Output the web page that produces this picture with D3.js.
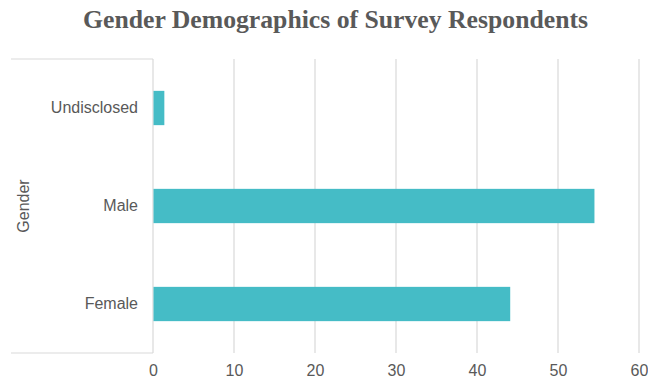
<!DOCTYPE html>
<html>
<head>
<meta charset="utf-8">
<script src="https://cdn.jsdelivr.net/npm/d3@7"></script>
<style>
  html, body { margin: 0; padding: 0; background: #ffffff; }
  svg { display: block; }
</style>
</head>
<body>
<svg id="chart" width="648" height="381"></svg>
<script>
// Survey respondents by gender
const categories = ["Undisclosed", "Male", "Female"];
const values = [1.4, 54.5, 44.1];
const xTicks = [0, 10, 20, 30, 40, 50, 60];

const svg = d3.select("#chart");
const plotLeft = 153, plotRight = 639, plotTop = 59, plotBottom = 353;
const labelFont = "'Liberation Sans', Arial, sans-serif";
const textColor = "#595959";
const lineColor = "#d9d9d9";

const x = d3.scaleLinear().domain([0, 60]).range([plotLeft, plotRight]);
const y = d3.scaleBand().domain(categories).range([plotTop, plotBottom]).paddingInner(0.65).paddingOuter(0.325);

// Title
svg.append("text")
  .attr("x", 335.5).attr("y", 28)
  .attr("text-anchor", "middle")
  .attr("font-family", "'Liberation Serif', 'Times New Roman', serif")
  .attr("font-weight", "bold")
  .attr("font-size", 25)
  .attr("textLength", 505)
  .attr("lengthAdjust", "spacingAndGlyphs")
  .attr("fill", textColor)
  .text("Gender Demographics of Survey Respondents");

// Vertical gridlines
svg.append("g")
  .selectAll("line")
  .data(xTicks.filter(d => d > 0))
  .join("line")
  .attr("x1", d => x(d)).attr("x2", d => x(d))
  .attr("y1", plotTop).attr("y2", plotBottom)
  .attr("stroke", lineColor).attr("stroke-width", 1.2);

// Category frame lines on the left
svg.append("line")
  .attr("x1", 11).attr("x2", plotLeft).attr("y1", plotTop).attr("y2", plotTop)
  .attr("stroke", lineColor).attr("stroke-width", 1.2);
svg.append("line")
  .attr("x1", 11).attr("x2", plotLeft).attr("y1", plotBottom).attr("y2", plotBottom)
  .attr("stroke", lineColor).attr("stroke-width", 1.2);
svg.append("line")
  .attr("x1", plotLeft).attr("x2", plotLeft).attr("y1", plotTop).attr("y2", plotBottom)
  .attr("stroke", lineColor).attr("stroke-width", 1.2);

// Bars
svg.append("g")
  .selectAll("rect")
  .data(categories.map((c, i) => ({ c, v: values[i] })))
  .join("rect")
  .attr("x", x(0) + 0.5)
  .attr("y", d => y(d.c))
  .attr("width", d => x(d.v) - x(0) - 0.5)
  .attr("height", y.bandwidth())
  .attr("fill", "#45bcc6");

// Category labels
const yAxis = d3.axisLeft(y).tickSize(0).tickPadding(15);
const gy = svg.append("g").attr("transform", `translate(${plotLeft},0)`).call(yAxis);
gy.select(".domain").remove();
gy.selectAll("text")
  .attr("font-family", labelFont)
  .attr("font-size", 16)
  .attr("fill", textColor);

// Value axis labels
const xAxis = d3.axisBottom(x).tickValues(xTicks).tickSize(0).tickPadding(12);
const gx = svg.append("g").attr("transform", `translate(0,${plotBottom})`).call(xAxis);
gx.select(".domain").remove();
gx.selectAll("text")
  .attr("font-family", labelFont)
  .attr("font-size", 16)
  .attr("fill", textColor);

// Axis title
svg.append("text")
  .attr("transform", `translate(29,${(plotTop + plotBottom) / 2}) rotate(-90)`)
  .attr("text-anchor", "middle")
  .attr("font-family", labelFont)
  .attr("font-size", 16)
  .attr("fill", textColor)
  .text("Gender");
</script>
</body>
</html>
